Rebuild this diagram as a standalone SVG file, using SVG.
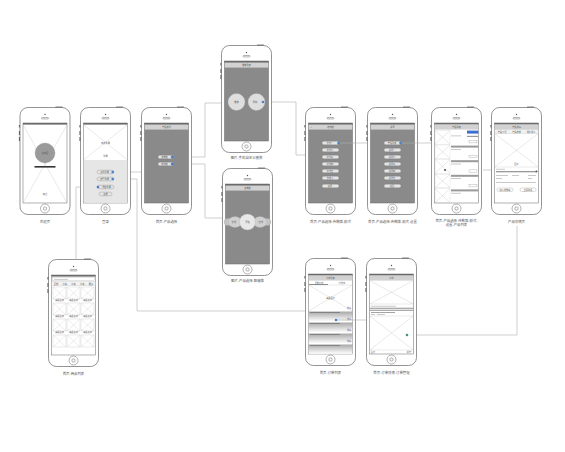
<svg xmlns="http://www.w3.org/2000/svg" width="565" height="452" viewBox="0 0 565 452">
<style>
.body{fill:#fff;stroke:#666;stroke-width:.7}
.ln{fill:none;stroke:#666;stroke-width:.5}
.scr{stroke:#666;stroke-width:.5}
.grey{fill:#8a8a8a}
.wh{fill:#fff}
.lg{fill:#e6e6e6}
.x{stroke:#c8c8c8;stroke-width:.4;fill:none}
.sb{fill:#6a6a6a}
.tb{fill:#d2d2d2}
.pill{fill:#e4e4e4;stroke:#777;stroke-width:.3}
.dot{fill:#4b7fd0}
.gdot{fill:#3a9a7a}
.bar{fill:#9a9a9a}
.lbar{fill:#bcbcbc}
.btn{fill:#fff;stroke:#888;stroke-width:.3}
.t{font-family:"Noto Sans CJK SC","Liberation Sans",sans-serif;fill:#555;text-anchor:middle}
.lab{font-size:3.4px}
.sm{font-size:2.2px}
.con{fill:none;stroke:#b0b0b0;stroke-width:.6}
</style>
<defs>
<linearGradient id="gr" x1="0" y1="0" x2="0" y2="1">
<stop offset="0" stop-color="#a8a8a8"/><stop offset="1" stop-color="#ffffff"/>
</linearGradient>
<g id="ph">
<rect class="body" x="0.5" y="0.5" width="50" height="107" rx="8"/>
<rect x="-0.6" y="18" width="1.1" height="2.5" fill="#666"/>
<rect x="-0.6" y="24" width="1.1" height="4" fill="#666"/>
<rect x="-0.6" y="30" width="1.1" height="4" fill="#666"/>
<rect x="36" y="-0.4" width="7" height="0.9" fill="#666"/>
<circle cx="25.5" cy="7.5" r="0.7" fill="#555"/>
<rect class="ln" x="22" y="10.5" width="7" height="1.4" rx="0.7"/>
<circle class="ln" cx="25.5" cy="101.5" r="4.5"/>
<rect class="ln" x="24" y="100" width="3" height="3" rx="0.8"/>
</g>
</defs>

<g id="connectors">
<path class="con" d="M112.7 172 H141"/>
<path class="con" d="M112.7 179 H137 V311 H305"/>
<path class="con" d="M98 187 H76 V259"/>
<path class="con" d="M172 157 H205 V103 H221"/>
<path class="con" d="M172 164 H205 V218 H222"/>
<path class="con" d="M263 102 H296 V155 H305"/>
<path class="con" d="M483 170 H491"/>
<path class="con" d="M517 226 V335 H410"/>
</g>

<!-- Phone 1 welcome -->
<g id="p-welcome" transform="translate(19.5,107)">
<use href="#ph"/>
<rect class="scr wh" x="3.5" y="16" width="44" height="80"/>
<rect class="sb" x="3.5" y="16" width="44" height="1.6"/>
<path class="x" d="M3.5 17.6 L47.5 96 M47.5 17.6 L3.5 96"/>
<circle cx="25.5" cy="46" r="10" fill="#9a9a9a" stroke="#888" stroke-width=".3"/>
<text class="t sm" x="25.5" y="47">启动图</text>
<rect x="15" y="59" width="21" height="1.6" fill="#333"/>
<text class="t sm" x="25.5" y="88">跳过</text>
<text class="t lab" x="25.5" y="116">欢迎页</text>
</g>

<!-- Phone 2 login -->
<g id="p-login" transform="translate(80,107)">
<use href="#ph"/>
<rect class="scr wh" x="3.5" y="16" width="44" height="80"/>
<rect class="sb" x="3.5" y="16" width="44" height="1.6"/>
<path class="x" d="M3.5 17.6 L47.5 53 M47.5 17.6 L3.5 53"/>
<text class="t sm" x="25.5" y="37">欢迎登录</text>
<text class="t sm" x="25.5" y="50">登录</text>
<rect class="lg" x="3.75" y="53" width="43.5" height="42.75"/>
<rect class="pill" x="17" y="63.2" width="17" height="3.6" rx="1.8"/>
<rect class="pill" x="17" y="70.2" width="17" height="3.6" rx="1.8"/>
<rect class="pill" x="17" y="78.2" width="17" height="3.6" rx="1.8"/>
<rect class="pill" x="19" y="85.2" width="13" height="3.6" rx="1.8"/>
<text class="t sm" x="24.5" y="65.8">手机登录</text>
<text class="t sm" x="24.5" y="72.8">账号登录</text>
<text class="t sm" x="26.5" y="80.8">微信登录</text>
<text class="t sm" x="25.5" y="87.8">注册</text>
<circle class="dot" cx="32.7" cy="65" r="1.3"/>
<circle class="dot" cx="32.7" cy="72" r="1.3"/>
<circle class="dot" cx="18" cy="80" r="1.3"/>
<text class="t lab" x="25.5" y="116">登录</text>
</g>

<!-- Phone 3 product select -->
<g id="p-select" transform="translate(141,107)">
<use href="#ph"/>
<rect class="scr grey" x="3.5" y="16" width="44" height="80"/>
<rect class="sb" x="3.5" y="16" width="44" height="1.6"/>
<rect class="tb" x="3.75" y="17.6" width="43.5" height="5"/>
<text class="t sm" x="25.5" y="21">产品选择</text>
<rect class="pill" x="17" y="48.2" width="15" height="3.6" rx="1.8"/>
<rect class="pill" x="17" y="55.2" width="15" height="3.6" rx="1.8"/>
<text class="t sm" x="23.5" y="50.8">智能版</text>
<text class="t sm" x="23.5" y="57.8">传统版</text>
<circle class="dot" cx="31" cy="50" r="1.3"/>
<circle class="dot" cx="31" cy="57" r="1.3"/>
<text class="t lab" x="25.5" y="116">首页-产品选择</text>
</g>

<!-- Top center phone -->
<g id="p-play" transform="translate(221,45)">
<use href="#ph"/>
<rect class="scr grey" x="3.5" y="16" width="44" height="80"/>
<rect class="sb" x="3.5" y="16" width="44" height="1.6"/>
<rect class="tb" x="3.75" y="17.6" width="43.5" height="5"/>
<text class="t sm" x="25.5" y="21">播放列表</text>
<circle cx="15.5" cy="57" r="8.5" fill="#dedede" stroke="#aaa" stroke-width=".3"/>
<circle cx="35.5" cy="57" r="8.5" fill="#dedede" stroke="#aaa" stroke-width=".3"/>
<text class="t sm" x="15.5" y="57.8">播放</text>
<text class="t sm" x="34" y="57.8">暂停</text>
<circle class="dot" cx="42" cy="57" r="1.3"/>
<text class="t lab" x="25.5" y="114">图片-手机自定义播放</text>
</g>

<!-- Bottom center phone -->
<g id="p-smart" transform="translate(222,168)">
<use href="#ph"/>
<rect class="scr grey" x="3.5" y="16" width="44" height="80"/>
<rect class="sb" x="3.5" y="16" width="44" height="1.6"/>
<rect class="tb" x="3.75" y="17.6" width="43.5" height="5"/>
<text class="t sm" x="25.5" y="21">智能版</text>
<ellipse cx="6" cy="54" rx="4" ry="3.6" fill="#c4c4c4" stroke="#aaa" stroke-width=".3"/>
<ellipse cx="45" cy="54" rx="4" ry="3.6" fill="#c4c4c4" stroke="#aaa" stroke-width=".3"/>
<ellipse cx="13" cy="54" rx="7" ry="5.4" fill="#d0d0d0" stroke="#aaa" stroke-width=".3"/>
<ellipse cx="38" cy="54" rx="7" ry="5.4" fill="#d0d0d0" stroke="#aaa" stroke-width=".3"/>
<circle cx="25.5" cy="54" r="8" fill="#e8e8e8" stroke="#aaa" stroke-width=".3"/>
<text class="t sm" x="25.5" y="54.8">开始</text>
<text class="t sm" x="12" y="54.8">模式</text>
<text class="t sm" x="39" y="54.8">模式</text>
<text class="t lab" x="25.5" y="114">图片-产品选择-智能版</text>
</g>

<!-- Phone 4 -->
<g id="p-mode" transform="translate(305,107)">
<use href="#ph"/>
<rect class="scr grey" x="3.5" y="16" width="44" height="80"/>
<rect class="sb" x="3.5" y="16" width="44" height="1.6"/>
<rect class="tb" x="3.75" y="17.6" width="43.5" height="5"/>
<text class="t sm" x="6" y="21">&lt;</text>
<text class="t sm" x="25.5" y="21">传统版</text>
<rect class="pill" x="17" y="34.2" width="17" height="3.6" rx="1.8"/>
<rect class="pill" x="17" y="41.2" width="17" height="3.6" rx="1.8"/>
<rect class="pill" x="17" y="48.2" width="17" height="3.6" rx="1.8"/>
<rect class="pill" x="17" y="55.2" width="17" height="3.6" rx="1.8"/>
<rect class="pill" x="17" y="62.2" width="17" height="3.6" rx="1.8"/>
<rect class="pill" x="17" y="69.2" width="17" height="3.6" rx="1.8"/>
<rect class="pill" x="17" y="77.2" width="17" height="3.6" rx="1.8"/>
<text class="t sm" x="25" y="36.8">模式一</text>
<text class="t sm" x="25" y="43.8">模式二</text>
<text class="t sm" x="25" y="50.8">模式三</text>
<text class="t sm" x="25" y="57.8">模式四</text>
<text class="t sm" x="25" y="64.8">模式五</text>
<text class="t sm" x="25" y="71.8">自定义</text>
<text class="t sm" x="25" y="79.8">设置</text>
<circle class="dot" cx="33.5" cy="36" r="1.3"/>
<text class="t lab" x="25.5" y="116">首页-产品选择-传统版-模式</text>
</g>

<!-- Phone 5 -->
<g id="p-setting" transform="translate(367,107)">
<use href="#ph"/>
<rect class="scr grey" x="3.5" y="16" width="44" height="80"/>
<rect class="sb" x="3.5" y="16" width="44" height="1.6"/>
<rect class="tb" x="3.75" y="17.6" width="43.5" height="5"/>
<text class="t sm" x="25.5" y="21">设置</text>
<rect class="pill" x="17" y="34.2" width="17" height="3.6" rx="1.8"/>
<rect class="pill" x="17" y="41.2" width="17" height="3.6" rx="1.8"/>
<rect class="pill" x="17" y="48.2" width="17" height="3.6" rx="1.8"/>
<rect class="pill" x="17" y="55.2" width="17" height="3.6" rx="1.8"/>
<rect class="pill" x="17" y="62.2" width="17" height="3.6" rx="1.8"/>
<rect class="pill" x="17" y="69.2" width="17" height="3.6" rx="1.8"/>
<rect class="pill" x="17" y="77.2" width="17" height="3.6" rx="1.8"/>
<text class="t sm" x="25" y="36.8">产品列表</text>
<text class="t sm" x="25" y="43.8">设置一</text>
<text class="t sm" x="25" y="50.8">设置二</text>
<text class="t sm" x="25" y="57.8">设置三</text>
<text class="t sm" x="25" y="64.8">设置四</text>
<text class="t sm" x="25" y="71.8">设置五</text>
<text class="t sm" x="25" y="79.8">返回</text>
<circle class="dot" cx="33.5" cy="36" r="1.3"/>
<text class="t lab" x="25.5" y="116">首页-产品选择-传统版-模式-设置</text>
</g>

<!-- Phone 6 product list -->
<g id="p-list" transform="translate(431,107)">
<use href="#ph"/>
<rect class="scr wh" x="3.5" y="16" width="44" height="80"/>
<rect class="sb" x="3.5" y="16" width="44" height="1.6"/>
<rect class="tb" x="3.75" y="17.6" width="43.5" height="5"/>
<text class="t sm" x="25.5" y="21">产品列表</text>
<g>
<rect x="4" y="23.5" width="15" height="13.6" fill="none" stroke="#ccc" stroke-width=".3"/>
<path class="x" d="M4 23.5 L19 37.1 M19 23.5 L4 37.1"/>
<rect x="36" y="23.6" width="11.3" height="3" fill="#3d6fd0"/>
<rect class="lbar" x="20" y="28.5" width="10" height=".8"/>
<rect class="bar" x="36" y="28.8" width="11" height="1.2"/>
<rect class="btn" x="38" y="33.5" width="8" height="2.4"/>
</g>
<g>
<rect x="4" y="38" width="15" height="13.6" fill="none" stroke="#ccc" stroke-width=".3"/>
<path class="x" d="M4 38 L19 51.6 M19 38 L4 51.6"/>
<rect class="bar" x="20" y="38.6" width="27.3" height="2"/>
<rect class="lbar" x="20" y="42" width="10" height=".8"/>
<rect class="btn" x="38" y="48.3" width="8" height="2.4"/>
</g>
<g>
<rect x="4" y="52.6" width="15" height="13.6" fill="none" stroke="#ccc" stroke-width=".3"/>
<path class="x" d="M4 52.6 L19 66.2 M19 52.6 L4 66.2"/>
<rect class="bar" x="20" y="53.2" width="27.3" height="2"/>
<rect class="lbar" x="20" y="56.6" width="10" height=".8"/>
<rect class="btn" x="38" y="62.9" width="8" height="2.4"/>
</g>
<g>
<rect x="4" y="67.2" width="15" height="13.6" fill="none" stroke="#ccc" stroke-width=".3"/>
<path class="x" d="M4 67.2 L19 80.8 M19 67.2 L4 80.8"/>
<rect class="bar" x="20" y="67.8" width="27.3" height="2"/>
<rect class="lbar" x="20" y="71.2" width="10" height=".8"/>
<rect class="btn" x="38" y="77.5" width="8" height="2.4"/>
</g>
<g>
<rect x="4" y="81.8" width="15" height="13.6" fill="none" stroke="#ccc" stroke-width=".3"/>
<path class="x" d="M4 81.8 L19 95.4 M19 81.8 L4 95.4"/>
<rect class="bar" x="20" y="82.4" width="27.3" height="2"/>
<rect class="lbar" x="20" y="85.8" width="10" height=".8"/>
</g>
<circle cx="14" cy="63" r="1.1" fill="#555"/>
<text class="t lab" x="25.5" y="115">首页-产品选择-传统版-模式-</text>
<text class="t lab" x="25.5" y="119">设置-产品列表</text>
</g>

<!-- Phone 7 detail -->
<g id="p-detail" transform="translate(491,107)">
<use href="#ph"/>
<rect class="scr wh" x="3.5" y="16" width="44" height="80"/>
<rect class="sb" x="3.5" y="16" width="44" height="1.6"/>
<rect class="tb" x="3.75" y="17.6" width="43.5" height="5"/>
<text class="t sm" x="25.5" y="21">产品详情</text>
<rect x="3.75" y="22.6" width="43.5" height="4" fill="#f2f2f2" stroke="#bbb" stroke-width=".3"/>
<text class="t sm" x="11" y="25.5">产品介绍</text>
<text class="t sm" x="25.5" y="25.5">产品参数</text>
<text class="t sm" x="40" y="25.5">用户评价</text>
<path class="x" d="M3.75 26.6 L47.25 60 M47.25 26.6 L3.75 60"/>
<text class="t sm" x="25.5" y="57.5">图片</text>
<line x1="3.75" y1="60" x2="47.25" y2="60" stroke="#bbb" stroke-width=".3"/>
<rect class="lbar" x="5" y="61.8" width="9" height=".8"/>
<rect class="bar" x="5" y="64" width="40" height="1.3"/>
<circle cx="45.5" cy="64.6" r="1" fill="#555"/>
<rect class="lbar" x="5" y="68" width="12" height=".8"/>
<rect class="lbar" x="21" y="68" width="7" height=".8"/>
<rect class="lbar" x="37" y="68" width="8" height=".8"/>
<rect class="lbar" x="5" y="71" width="6" height=".8"/>
<rect class="lbar" x="37" y="71" width="4" height=".8"/>
<rect class="lbar" x="5" y="75" width="40" height=".8"/>
<rect class="btn" x="6" y="81" width="16" height="3.5" rx="1.7"/>
<rect class="btn" x="29" y="81" width="16" height="3.5" rx="1.7"/>
<text class="t sm" x="14" y="83.5">加入购物车</text>
<text class="t sm" x="37" y="83.5">立即购买</text>
<text class="t lab" x="25.5" y="116">产品详情页</text>
</g>

<!-- Bottom-left product grid -->
<g id="p-grid" transform="translate(48,259)">
<use href="#ph"/>
<rect class="scr wh" x="3.5" y="16" width="44" height="80"/>
<rect class="sb" x="3.5" y="16" width="44" height="1.6"/>
<rect x="4.5" y="18.8" width="42" height="3" fill="#fff" stroke="#aaa" stroke-width=".3"/>
<rect class="lbar" x="6" y="19.9" width="14" height=".8"/>
<rect x="3.75" y="22.6" width="43.5" height="4" fill="#f2f2f2" stroke="#bbb" stroke-width=".3"/>
<text class="t sm" x="8" y="25.5">全部</text>
<text class="t sm" x="16.7" y="25.5">分类</text>
<text class="t sm" x="25.5" y="25.5">分类</text>
<text class="t sm" x="34.3" y="25.5">分类</text>
<text class="t sm" x="43" y="25.5">更多</text>
<g fill="none" stroke="#c8c8c8" stroke-width=".35">
<path d="M5 28 h13 v12 h-13 z M5 28 L18 40 M18 28 L5 40"/>
<path d="M19 28 h13 v12 h-13 z M19 28 L32 40 M32 28 L19 40"/>
<path d="M33 28 h13 v12 h-13 z M33 28 L46 40 M46 28 L33 40"/>
<path d="M5 44 h13 v12 h-13 z M5 44 L18 56 M18 44 L5 56"/>
<path d="M19 44 h13 v12 h-13 z M19 44 L32 56 M32 44 L19 56"/>
<path d="M33 44 h13 v12 h-13 z M33 44 L46 56 M46 44 L33 56"/>
<path d="M5 60 h13 v12 h-13 z M5 60 L18 72 M18 60 L5 72"/>
<path d="M19 60 h13 v12 h-13 z M19 60 L32 72 M32 60 L19 72"/>
<path d="M33 60 h13 v12 h-13 z M33 60 L46 72 M46 60 L33 72"/>
<path d="M5 76 h13 v12 h-13 z M5 76 L18 88 M18 76 L5 88"/>
<path d="M19 76 h13 v12 h-13 z M19 76 L32 88 M32 76 L19 88"/>
<path d="M33 76 h13 v12 h-13 z M33 76 L46 88 M46 76 L33 88"/>
</g>
<text class="t sm" x="11.5" y="42.3">商品名称</text>
<text class="t sm" x="25.5" y="42.3">商品名称</text>
<text class="t sm" x="39.5" y="42.3">商品名称</text>
<text class="t sm" x="11.5" y="58.3">商品名称</text>
<text class="t sm" x="25.5" y="58.3">商品名称</text>
<text class="t sm" x="39.5" y="58.3">商品名称</text>
<text class="t sm" x="11.5" y="74.3">商品名称</text>
<text class="t sm" x="25.5" y="74.3">商品名称</text>
<text class="t sm" x="39.5" y="74.3">商品名称</text>
<text class="t lab" x="25.5" y="116">首页-商品列表</text>
</g>

<!-- Bottom A order list -->
<g id="p-orders" transform="translate(305,258)">
<use href="#ph"/>
<rect class="scr wh" x="3.5" y="16" width="44" height="80"/>
<rect class="sb" x="3.5" y="16" width="44" height="1.6"/>
<rect class="tb" x="3.75" y="17.6" width="43.5" height="5"/>
<text class="t sm" x="25.5" y="21">订单列表</text>
<text class="t sm" x="14" y="25.5">全部订单</text>
<text class="t sm" x="37" y="25.5">待付款</text>
<rect x="4" y="26.3" width="19" height=".7" fill="#555"/>
<line x1="3.75" y1="27" x2="47.25" y2="27" stroke="#bbb" stroke-width=".3"/>
<path class="x" d="M3.75 27 L47.25 53 M47.25 27 L3.75 53"/>
<text class="t sm" x="25.5" y="41">商品图片</text>
<text class="t sm" x="44" y="51">详情</text>
<rect x="3.75" y="53.5" width="43.5" height="10" fill="url(#gr)"/>
<rect x="3.75" y="64.5" width="43.5" height="10" fill="url(#gr)"/>
<rect x="3.75" y="75.5" width="43.5" height="10" fill="url(#gr)"/>
<rect x="3.75" y="86.5" width="43.5" height="9.3" fill="url(#gr)"/>
<rect x="5" y="54.2" width="30" height=".8" fill="#777"/>
<rect x="5" y="65.2" width="30" height=".8" fill="#777"/>
<rect x="5" y="76.2" width="30" height=".8" fill="#777"/>
<rect x="5" y="87.2" width="30" height=".8" fill="#777"/>
<text class="t sm" x="44" y="62">详情</text>
<text class="t sm" x="44" y="73">详情</text>
<text class="t sm" x="44" y="84">详情</text>
<text class="t lab" x="25.5" y="116">首页-订单列表</text>
</g>

<!-- Bottom B order detail -->
<g id="p-order-detail" transform="translate(366,258)">
<use href="#ph"/>
<rect class="scr wh" x="3.5" y="16" width="44" height="80"/>
<rect class="sb" x="3.5" y="16" width="44" height="1.6"/>
<rect class="tb" x="3.75" y="17.6" width="43.5" height="5"/>
<text class="t sm" x="25.5" y="21">订单</text>
<path class="x" d="M3.75 22.6 L47.25 46 M47.25 22.6 L3.75 46"/>
<line x1="3.75" y1="46" x2="47.25" y2="46" stroke="#bbb" stroke-width=".3"/>
<rect class="lbar" x="5" y="47.8" width="25" height=".8"/>
<rect x="3.75" y="49.8" width="43.5" height=".8" fill="#777"/>
<rect x="3.75" y="51.8" width="43.5" height=".8" fill="#777"/>
<rect class="bar" x="5" y="54" width="24" height=".9"/>
<rect class="lbar" x="5" y="56.2" width="4" height=".8"/>
<rect class="lbar" x="11" y="56.2" width="8" height=".8"/>
<line x1="3.75" y1="58" x2="47.25" y2="58" stroke="#bbb" stroke-width=".3"/>
<path class="x" d="M3.75 58 L47.25 92 M47.25 58 L3.75 92"/>
<line x1="3.75" y1="92" x2="47.25" y2="92" stroke="#bbb" stroke-width=".3"/>
<circle class="gdot" cx="41" cy="77" r="1.3"/>
<text class="t sm" x="7" y="94.6">合计</text>
<text class="t sm" x="43" y="94.6">提交</text>
<text class="t lab" x="25.5" y="116">首页-订单详情-订单管理</text>
</g>

<g id="connectors-top">
<path class="con" d="M339.5 143 H367"/>
<path class="con" d="M401.5 143 H431"/>
<path class="con" d="M336 320 H366"/>
<circle class="dot" cx="336" cy="320" r="1.3"/>
</g>
</svg>
